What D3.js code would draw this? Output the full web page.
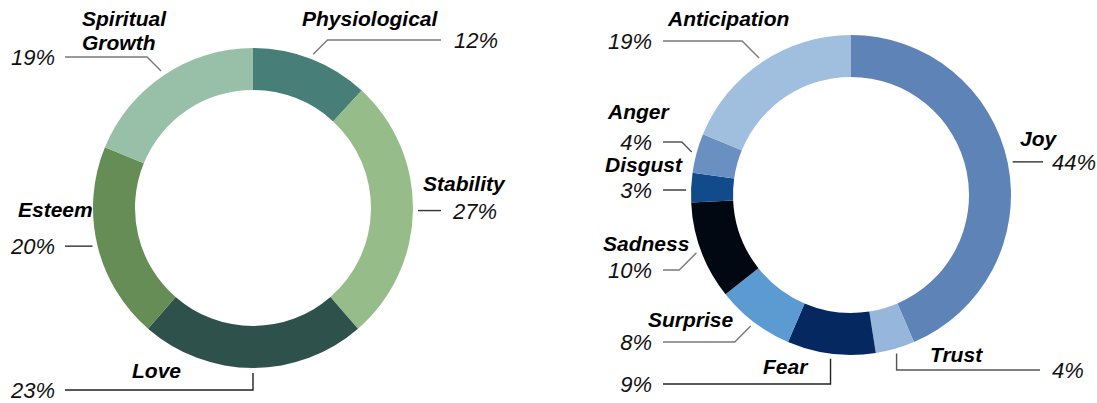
<!DOCTYPE html>
<html><head><meta charset="utf-8">
<script src="https://cdn.jsdelivr.net/npm/d3@7"></script>
<style>body{margin:0;background:#fff}svg{display:block}</style>
</head><body><svg id="chart" width="1097" height="403"></svg>
<script>
// ---- data ----
const needsCategories = ["Physiological","Stability","Love","Esteem","Spiritual Growth"];
const needsValues = [12,27,23,20,19];
const needsLabels = ["12%","27%","23%","20%","19%"];
const needsColors = ["#477e77","#96bc89","#2e514b","#658d55","#98c0a9"];

const emotionCategories = ["Joy","Trust","Fear","Surprise","Sadness","Disgust","Anger","Anticipation"];
const emotionValues = [44,4,9,8,10,3,4,19];
const emotionLabels = ["44%","4%","9%","8%","10%","3%","4%","19%"];
const emotionColors = ["#5e83b6","#97b6dc","#04285f","#5c9ad2","#010812","#124b8b","#6a90c1","#a0bfde"];

// ---- label layout (annotation placement) ----
const needsLayout = {
  "Physiological":   {type:"diag", lineY:40, endX:441, pctX:454, pctAnchor:"start", nameX:302, nameY:[26], color:"#7a7a7a"},
  "Stability":       {type:"straight", endX:441, pctX:453, pctAnchor:"start", nameX:423, nameY:[191], color:"#333"},
  "Love":            {type:"vert", lineY:390, endX:65, pctX:55, pctAnchor:"end", nameX:132, nameY:[378], color:"#222"},
  "Esteem":          {type:"straight", endX:65, pctX:55, pctAnchor:"end", nameX:18, nameY:[217], color:"#333"},
  "Spiritual Growth":{type:"diag", lineY:57, endX:65, pctX:55, pctAnchor:"end", nameX:82, nameY:[26,50], lines:["Spiritual","Growth"], color:"#7a7a7a"}
};
const emotionLayout = {
  "Joy":          {type:"straight", endX:1043, pctX:1052, pctAnchor:"start", nameX:1020, nameY:[146], color:"#333"},
  "Trust":        {type:"vert", lineY:370, endX:1040, pctX:1052, pctAnchor:"start", nameX:930, nameY:[362], color:"#555"},
  "Fear":         {type:"vert", lineY:384, endX:663, pctX:652, pctAnchor:"end", nameX:763, nameY:[374], color:"#222"},
  "Surprise":     {type:"diag", lineY:342, endX:663, pctX:652, pctAnchor:"end", nameX:648, nameY:[327], color:"#7a7a7a"},
  "Sadness":      {type:"diag", lineY:270, endX:663, pctX:652, pctAnchor:"end", nameX:603, nameY:[251], color:"#7a7a7a"},
  "Disgust":      {type:"straight", lineY:190, endX:663, pctX:652, pctAnchor:"end", nameX:605, nameY:[172], color:"#333"},
  "Anger":        {type:"diag", lineY:142, endX:663, pctX:652, pctAnchor:"end", nameX:608, nameY:[119], color:"#555"},
  "Anticipation": {type:"diag", lineY:41, endX:663, pctX:652, pctAnchor:"end", nameX:668, nameY:[26], color:"#7a7a7a"}
};

const svg = d3.select("#chart");
const FONT = "'Liberation Sans', Arial, sans-serif";

function donut(cx, cy, cats, vals, labels, colors, layout){
  const R = 160, r = 118;
  const color = d3.scaleOrdinal().domain(cats).range(colors);
  const pie = d3.pie().sort(null).value((d,i)=>vals[i]);
  const arcs = pie(cats);
  const arc = d3.arc().innerRadius(r).outerRadius(R);
  const g = svg.append("g").attr("transform",`translate(${cx},${cy})`);
  g.selectAll("path").data(arcs).join("path")
    .attr("d", arc).attr("fill", d=>color(d.data));

  const lg = svg.append("g");
  arcs.forEach((a,i)=>{
    const L = layout[a.data];
    const m = (a.startAngle + a.endAngle)/2;
    const sr = R + 5;
    const sx = cx + sr*Math.sin(m), sy = cy - sr*Math.cos(m);
    let pts, ly;
    if (L.type === "diag") {
      ly = L.lineY;
      const sign = L.endX > sx ? 1 : -1;
      pts = [[sx,sy],[sx + sign*Math.abs(sy-ly), ly],[L.endX, ly]];
    } else if (L.type === "vert") {
      ly = L.lineY;
      pts = [[sx,sy],[sx,ly],[L.endX,ly]];
    } else {
      ly = (L.lineY !== undefined) ? L.lineY : sy;
      pts = [[sx,ly],[L.endX,ly]];
    }
    lg.append("path").attr("d", d3.line()(pts))
      .attr("fill","none").attr("stroke",L.color).attr("stroke-width",1.4);
    lg.append("text").attr("x",L.pctX).attr("y",ly+8)
      .attr("text-anchor",L.pctAnchor)
      .attr("font-family",FONT).attr("font-size",22).attr("font-style","italic")
      .attr("fill","#111").text(labels[i]);
    const lines = L.lines || [a.data];
    lines.forEach((t,k)=>{
      lg.append("text").attr("x",L.nameX).attr("y",L.nameY[k])
        .attr("font-family",FONT).attr("font-size",21).attr("font-style","italic")
        .attr("font-weight","bold").attr("fill","#000").text(t);
    });
  });
}

donut(253, 208, needsCategories, needsValues, needsLabels, needsColors, needsLayout);
donut(851, 195, emotionCategories, emotionValues, emotionLabels, emotionColors, emotionLayout);
</script></body></html>
